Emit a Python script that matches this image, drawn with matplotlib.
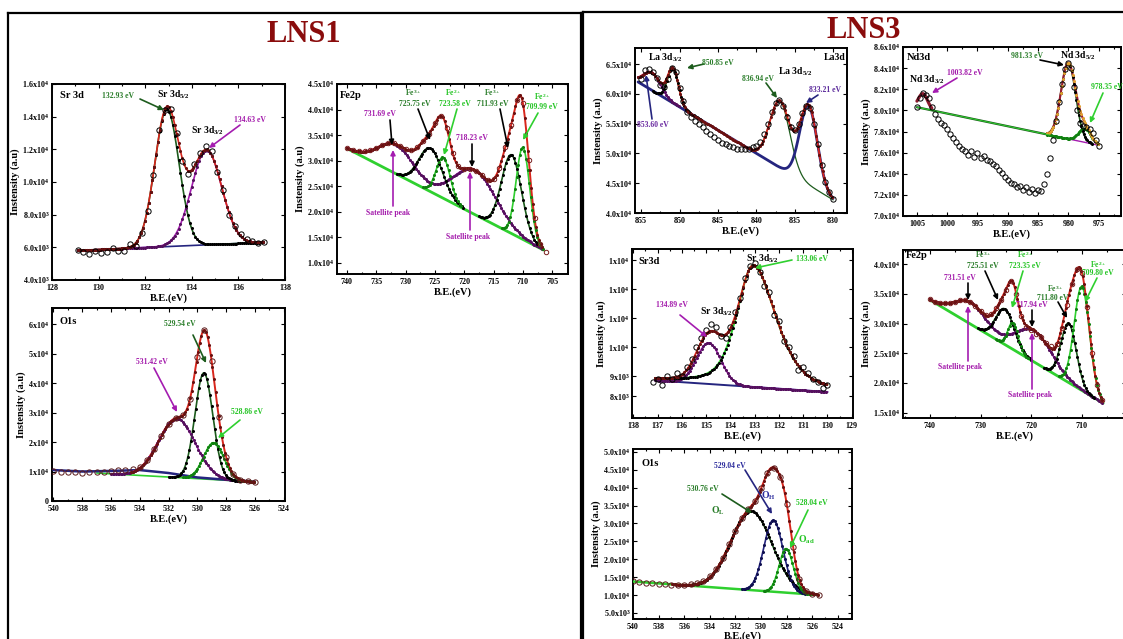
import numpy as np
import matplotlib
matplotlib.use("Agg")
import matplotlib.pyplot as plt
from matplotlib.ticker import AutoMinorLocator
from matplotlib.lines import Line2D
from matplotlib.patches import FancyArrowPatch

W, H = 1123, 639
plt.rcParams.update({
    "font.family": ["Liberation Serif", "DejaVu Serif"],
    "font.weight": "bold",
    "axes.labelweight": "bold",
    "mathtext.fontset": "custom",
    "mathtext.rm": "Liberation Serif:bold",
    "mathtext.it": "Liberation Serif:italic:bold",
    "mathtext.bf": "Liberation Serif:bold",
    "mathtext.default": "rm",
})

# ======================= DATA =======================
# --- LNS1 Sr 3d ---
sr1_grid = (129.1, 137.1, 0.25)
sr1_counts = [5.85, 5.70, 5.62, 5.78, 5.65, 5.70, 5.95, 5.80, 5.75, 6.20, 6.10, 6.90, 8.20,
              10.40, 13.20, 14.40, 14.50, 13.00, 11.30, 10.50, 11.10, 11.80, 12.20, 11.90,
              10.60, 9.50, 8.00, 7.30, 6.80, 6.50, 6.40, 6.25, 6.30]          # x1e3
sr1_baseline = [(129.0, 5.8e3), (137.0, 6.3e3)]
sr1_peak_be = [132.93, 134.63]
sr1_peak_h = [8.4e3, 5.8e3]
sr1_peak_s = [0.52, 0.65]
sr1_yticks = [4e3, 6e3, 8e3, 1.0e4, 1.2e4, 1.4e4, 1.6e4]
sr1_ylabels = ["4.0x10$^3$", "6.0x10$^3$", "8.0x10$^3$", "1.0x10$^4$", "1.2x10$^4$", "1.4x10$^4$", "1.6x10$^4$"]
sr1_xticks = [128, 130, 132, 134, 136, 138]

# --- LNS1 Fe2p ---
fe1_grid = (740, 706, -1.0)
fe1_counts = [3.25, 3.21, 3.18, 3.18, 3.20, 3.25, 3.30, 3.34, 3.34, 3.29, 3.22, 3.20, 3.27,
              3.39, 3.53, 3.73, 3.88, 3.64, 3.15, 2.89, 2.84, 2.84, 2.80, 2.71, 2.62, 2.64,
              2.86, 3.26, 3.70, 4.18, 4.13, 3.02, 1.87, 1.36, 1.22]           # x1e4
fe1_baseline = [(740.05, 3.24e4), (706.5, 1.25e4)]
fe1_peak_be = [731.69, 725.75, 723.58, 718.23, 711.93, 709.99]
fe1_peak_h = [0.57e4, 0.85e4, 0.80e4, 0.87e4, 1.54e4, 1.80e4]
fe1_peak_s = [3.0, 2.0, 1.2, 3.6, 1.7, 1.15]
fe1_yticks = [1.0e4, 1.5e4, 2.0e4, 2.5e4, 3.0e4, 3.5e4, 4.0e4, 4.5e4]
fe1_ylabels = ["1.0x10$^4$", "1.5x10$^4$", "2.0x10$^4$", "2.5x10$^4$", "3.0x10$^4$", "3.5x10$^4$", "4.0x10$^4$", "4.5x10$^4$"]
fe1_xticks = [740, 735, 730, 725, 720, 715, 710, 705]

# --- LNS1 O1s ---
o1_grid = (540, 526, -0.5)
o1_counts = [1.02, 1.00, 0.98, 0.97, 0.96, 0.98, 0.99, 1.00, 1.02, 1.04, 1.06, 1.10, 1.15,
             1.38, 1.76, 2.22, 2.62, 2.83, 2.93, 3.47, 4.89, 5.80, 4.74, 2.84, 1.51, 0.92,
             0.72, 0.67, 0.66]                                              # x1e4
o1_shirley_be = [540, 538, 536, 534, 532, 530, 528, 526]
o1_shirley = [1.05e4, 1.0e4, 1.02e4, 1.05e4, 0.95e4, 0.80e4, 0.72e4, 0.66e4]
o1_baseline = [(537.0, 0.95e4), (526.0, 0.65e4)]
o1_peak_be = [531.42, 529.54, 528.86]
o1_peak_h = [2.0e4, 3.6e4, 1.25e4]
o1_peak_s = [1.27, 0.62, 0.70]
o1_yticks = [0, 1e4, 2e4, 3e4, 4e4, 5e4, 6e4]
o1_ylabels = ["0", "1x10$^4$", "2x10$^4$", "3x10$^4$", "4x10$^4$", "5x10$^4$", "6x10$^4$"]
o1_xticks = [540, 538, 536, 534, 532, 530, 528, 526, 524]

# --- LNS3 La3d ---
la_grid = (855, 830, -0.5)
la_counts = [6.25, 6.40, 6.42, 6.36, 6.26, 6.15, 6.12, 6.25, 6.44, 6.36, 6.10, 5.88, 5.70,
             5.62, 5.55, 5.50, 5.45, 5.38, 5.33, 5.27, 5.22, 5.18, 5.15, 5.12, 5.10, 5.08,
             5.07, 5.07, 5.08, 5.10, 5.12, 5.20, 5.32, 5.50, 5.70, 5.85, 5.90, 5.80, 5.62,
             5.45, 5.40, 5.50, 5.68, 5.80, 5.76, 5.50, 5.15, 4.80, 4.52, 4.35, 4.23]  # x1e4
la_baseline = [(855.4, 6.2e4), (830.0, 4.22e4)]
la_peak_be = [853.60, 850.85, 836.94, 833.21]
la_peak_h = [0.30e4, 0.58e4, 1.12e4, 1.33e4]
la_peak_s = [1.1, 0.7, 1.3, 1.15]
la_yticks = [4.0e4, 4.5e4, 5.0e4, 5.5e4, 6.0e4, 6.5e4]
la_ylabels = ["4.0x10$^4$", "4.5x10$^4$", "5.0x10$^4$", "5.5x10$^4$", "6.0x10$^4$", "6.5x10$^4$"]
la_xticks = [855, 850, 845, 840, 835, 830]

# --- LNS3 Nd3d ---
nd_grid = (1005, 975, -0.5)
nd_counts = [8.03, 8.12, 8.16, 8.15, 8.12, 8.03, 7.97, 7.92, 7.88, 7.86,
             7.82, 7.78, 7.74, 7.70, 7.66, 7.63, 7.62, 7.58, 7.62, 7.56,
             7.60, 7.55, 7.57, 7.53, 7.52, 7.49, 7.47, 7.44, 7.41, 7.37,
             7.34, 7.31, 7.30, 7.27, 7.28, 7.25, 7.27, 7.23, 7.26, 7.22,
             7.25, 7.24, 7.30, 7.40, 7.55, 7.72, 7.90, 8.08, 8.25, 8.39,
             8.45, 8.40, 8.22, 8.00, 7.88, 7.85, 7.84, 7.82, 7.79, 7.72, 7.66]  # x1e4
nd_baseline = [(1005.0, 8.03e4), (975.0, 7.67e4)]
nd_peak_be = [1004.0, 980.0, 977.3]
nd_peak_h = [0.14e4, 0.72e4, 0.13e4]
nd_peak_s = [0.75, 1.2, 1.0]
nd_yticks = [7.0e4, 7.2e4, 7.4e4, 7.6e4, 7.8e4, 8.0e4, 8.2e4, 8.4e4, 8.6e4]
nd_ylabels = ["7.0x10$^4$", "7.2x10$^4$", "7.4x10$^4$", "7.6x10$^4$", "7.8x10$^4$", "8.0x10$^4$", "8.2x10$^4$", "8.4x10$^4$", "8.6x10$^4$"]
nd_xticks = [1005, 1000, 995, 990, 985, 980, 975]

# --- LNS3 Sr3d ---
sr3_grid = (137.2, 130.0, -0.2)
sr3_counts = [0.88, 0.89, 0.87, 0.90, 0.89, 0.91, 0.90, 0.93, 0.96, 1.00,
              1.03, 1.06, 1.08, 1.07, 1.04, 1.03, 1.07, 1.12, 1.17, 1.24,
              1.28, 1.29, 1.26, 1.21, 1.19, 1.11, 1.09, 1.02, 1.00, 0.97,
              0.92, 0.93, 0.91, 0.89, 0.88, 0.86, 0.87]                  # x1e4
sr3_baseline = [(137.1, 0.885e4), (130.0, 0.845e4)]
sr3_p_be, sr3_p_h, sr3_p_s = 134.89, 0.142e4, 0.5
sr3_g_be, sr3_g_h, sr3_g_fwhm_hi, sr3_g_fwhm_lo, sr3_g_eta = 133.06, 0.42e4, 1.6, 2.2, 0.5
sr3_yticks = [1.3e4, 1.2e4, 1.1e4, 1.0e4, 0.9e4, 0.83e4]
sr3_ylabels = ["1x10$^4$", "1x10$^4$", "1x10$^4$", "1x10$^4$", "9x10$^3$", "8x10$^3$"]
sr3_xticks = [138, 137, 136, 135, 134, 133, 132, 131, 130, 129]

# --- LNS3 Fe2p ---
fe3_grid = (740, 706, -1.0)
fe3_counts = [3.41, 3.37, 3.35, 3.34, 3.35, 3.37, 3.39, 3.39, 3.36, 3.30,
              3.21, 3.15, 3.16, 3.26, 3.40, 3.57, 3.71, 3.50, 3.12, 2.94,
              2.89, 2.83, 2.78, 2.68, 2.62, 2.66, 2.92, 3.32, 3.67, 3.92,
              3.86, 3.28, 2.50, 1.96, 1.72]                               # x1e4
fe3_baseline = [(740.0, 3.40e4), (705.8, 1.66e4)]
fe3_peak_be = [732.0, 725.2, 723.6, 719.5, 712.6, 710.0]
fe3_peak_h = [0.37e4, 0.60e4, 0.45e4, 0.53e4, 1.0e4, 1.75e4]
fe3_peak_s = [3.0, 1.8, 1.0, 3.5, 1.5, 1.5]
fe3_yticks = [1.5e4, 2.0e4, 2.5e4, 3.0e4, 3.5e4, 4.0e4]
fe3_ylabels = ["1.5x10$^4$", "2.0x10$^4$", "2.5x10$^4$", "3.0x10$^4$", "3.5x10$^4$", "4.0x10$^4$"]
fe3_xticks = [740, 730, 720, 710]

# --- LNS3 O1s ---
o3_grid = (540, 525.5, -0.5)
o3_counts = [1.38, 1.36, 1.34, 1.33, 1.31, 1.30, 1.28, 1.29, 1.29, 1.31,
             1.34, 1.40, 1.52, 1.72, 2.03, 2.42, 2.80, 3.15, 3.40, 3.62,
             3.98, 4.40, 4.55, 4.30, 3.55, 2.35, 1.45, 1.10, 1.03, 1.00]  # x1e4
o3_baseline = [(540.0, 1.377e4), (525.5, 1.0e4)]
o3_peak_be = [530.76, 529.04, 528.04]
o3_peak_h = [2.21e4, 2.0e4, 1.23e4]
o3_peak_s = [1.6, 0.75, 0.55]
o3_yticks = [0.5e4, 1.0e4, 1.5e4, 2.0e4, 2.5e4, 3.0e4, 3.5e4, 4.0e4, 4.5e4, 5.0e4]
o3_ylabels = ["5.0x10$^3$", "1.0x10$^4$", "1.5x10$^4$", "2.0x10$^4$", "2.5x10$^4$", "3.0x10$^4$", "3.5x10$^4$", "4.0x10$^4$", "4.5x10$^4$", "5.0x10$^4$"]
o3_xticks = [540, 538, 536, 534, 532, 530, 528, 526, 524]

# ======================= STYLE =======================
ENV, ENV_D = "#d8261c", "#6a1010"
DKG, DKG_D = "#1d5c1d", "#000000"
GRN, GRN_D = "#2fd02f", "#108010"
PUR, PUR_D = "#a41cb0", "#55105e"
NAV, NAV_D = "#25257f", "#101050"
T_DKG, T_GRN, T_PUR, T_NAV = "#2a7d2a", "#23c423", "#a31aab", "#2b2b9c"
TITLE = "#8a0c0c"

fig = plt.figure(figsize=(W / 100, H / 100), dpi=100)
fig.patch.set_facecolor("white")


def gauss(x, c, a, s):
    return a * np.exp(-0.5 * ((x - c) / s) ** 2)


def linbg(x, pts):
    (x0, y0), (x1, y1) = pts
    return y0 + (y1 - y0) * (np.asarray(x) - x0) / (x1 - x0)


def apv(x, c, a, w_hi, w_lo, eta):
    hw = np.where(x >= c, w_hi, w_lo) / 2.0
    u = ((x - c) / hw) ** 2
    return a * (eta / (1 + u) + (1 - eta) * np.exp(-np.log(2) * u))


def grid(g, n):
    return g[0] + g[2] * np.arange(n)


def make_ax(box, xlim, ylim, xt, yt, yl, xlabelpad=1):
    l, t, r, b = box
    ax = fig.add_axes([l / W, 1 - b / H, (r - l) / W, (b - t) / H])
    ax.set_xlim(*xlim)
    ax.set_ylim(*ylim)
    ax.set_xticks(xt)
    ax.set_xticklabels([str(v) for v in xt])
    ax.set_yticks(yt)
    ax.set_yticklabels(yl)
    ax.xaxis.set_minor_locator(AutoMinorLocator(2))
    ax.tick_params(which="both", direction="in", top=True, right=True,
                   labelsize=5.8, width=0.8)
    ax.tick_params(axis="x", pad=3)
    ax.tick_params(axis="y", pad=2)
    ax.tick_params(which="major", length=3)
    ax.tick_params(which="minor", length=1.7)
    for s in ax.spines.values():
        s.set_linewidth(1.4)
    ax.set_xlabel("B.E.(eV)", fontsize=7.5, labelpad=xlabelpad)
    ax.set_ylabel("Instensity (a.u)", fontsize=7.5, labelpad=2)
    return ax


def curve(ax, x, y, color, dot=None, lw=1.2, z=3, every=4):
    ax.plot(x, y, color=color, lw=lw, zorder=z, solid_capstyle="round")
    if dot is not None:
        ax.plot(x[::every], y[::every], ls="none", marker="o", ms=1.2,
                color=dot, zorder=z + 0.1)


def circles(ax, x, y, ec="black", ms=3.8):
    ax.plot(x, y, ls="none", marker="o", ms=ms, mfc="none", mec=ec, mew=0.7, zorder=5)


def label(s, p, color="black", size=5.5, ha="center"):
    fig.text(p[0] / W, 1 - p[1] / H, s, color=color, fontsize=size, ha=ha,
             va="center", fontweight="bold", zorder=10)


def arrow(p0, p1, color):
    a = FancyArrowPatch((p0[0] / W, 1 - p0[1] / H), (p1[0] / W, 1 - p1[1] / H),
                        transform=fig.transFigure, arrowstyle="-|>", mutation_scale=7,
                        color=color, lw=1.2, shrinkA=0, shrinkB=0, zorder=10)
    fig.add_artist(a)


def fline(p0, p1, lw=1.6):
    fig.add_artist(Line2D([p0[0] / W, p1[0] / W], [1 - p0[1] / H, 1 - p1[1] / H],
                          transform=fig.transFigure, color="black", lw=lw))


# ---------- boxes and titles ----------
fline((8, 13), (581, 13)); fline((8, 13), (8, 640)); fline((581, 13), (581, 640))
fline((583, 12), (1124, 12)); fline((583, 12), (583, 640))
label("LNS1", (304, 35), TITLE, 22)
label("LNS3", (864, 30), TITLE, 22)

# ================= LNS1 Sr 3d =================
axA = make_ax((52, 84, 285, 280), (128, 138), (4e3, 1.6e4), sr1_xticks, sr1_yticks, sr1_ylabels)
xm = np.linspace(sr1_baseline[0][0] + 0.1, sr1_baseline[1][0] + 0.1, 400)
bg = linbg(xm, sr1_baseline)
g = gauss(xm, sr1_peak_be[0], sr1_peak_h[0], sr1_peak_s[0])
p = gauss(xm, sr1_peak_be[1], sr1_peak_h[1], sr1_peak_s[1])
curve(axA, xm, bg, NAV)
curve(axA, xm, bg + p, PUR, PUR_D)
curve(axA, xm, bg + g, DKG, DKG_D)
curve(axA, xm, bg + g + p, ENV, ENV_D)
circles(axA, grid(sr1_grid, len(sr1_counts)), np.array(sr1_counts) * 1e3)
label("Sr 3d", (60, 95), size=7.5, ha="left")
label("132.93 eV", (118, 96), T_DKG)
arrow((140, 99), (164, 110), DKG)
label("Sr 3d$_{5/2}$", (173, 95), size=7)
label("Sr 3d$_{3/2}$", (207, 131), size=7)
label("134.63 eV", (250, 120), T_PUR)
arrow((240, 125), (209, 148), PUR)

# ================= LNS1 Fe2p =================
axB = make_ax((337, 84, 568, 274), (741.7, 702.3), (0.78e4, 4.5e4), fe1_xticks, fe1_yticks, fe1_ylabels)
xm = np.linspace(740.0, 706.5, 500)
bg = linbg(xm, fe1_baseline)
comps = [gauss(xm, c, a, s) for c, a, s in zip(fe1_peak_be, fe1_peak_h, fe1_peak_s)]
curve(axB, xm, bg, GRN, lw=2.0)
curve(axB, xm, bg + comps[0] + comps[3], PUR, PUR_D)
for k, col, dcol, lo, hi in [(1, DKG, DKG_D, 720.0, 731.5), (2, GRN, GRN_D, 720.5, 727.0),
                             (4, DKG, DKG_D, 707.5, 717.5), (5, GRN, GRN_D, 706.5, 713.5)]:
    m = (xm >= lo) & (xm <= hi)
    curve(axB, xm[m], bg[m] + comps[k][m], col, dcol)
curve(axB, xm, bg + sum(comps), ENV, ENV_D, lw=1.4)
circles(axB, grid(fe1_grid, len(fe1_counts)), np.array(fe1_counts) * 1e4, ec="#7a1f1f", ms=3.2)
label("Fe2p", (340, 96), size=7.5, ha="left")
label("Fe$^{3+}$", (413, 93), T_DKG); label("725.75 eV", (415, 104), T_DKG)
label("Fe$^{2+}$", (453, 93), T_GRN); label("723.58 eV", (455, 104), T_GRN)
label("Fe$^{3+}$", (492, 93), T_DKG); label("711.93 eV", (493, 104), T_DKG)
label("Fe$^{2+}$", (542, 96), T_GRN); label("709.99 eV", (542, 107), T_GRN)
label("731.69 eV", (380, 114), T_PUR)
label("718.23 eV", (472, 138), T_PUR)
label("Satellite peak", (388, 213), T_PUR)
label("Satellite peak", (468, 237), T_PUR)
arrow((418, 109), (430, 140), "black")
arrow((457, 109), (444, 155), GRN)
arrow((500, 109), (508, 148), "black")
arrow((538, 113), (523, 140), GRN)
arrow((390, 120), (392, 145), "black")
arrow((472, 144), (472, 167), "black")
arrow((393, 206), (393, 150), PUR)
arrow((470, 230), (470, 172), PUR)

# ================= LNS1 O1s =================
axC = make_ax((52, 308, 285, 501), (540.1, 523.9), (0, 6.55e4), o1_xticks, o1_yticks, o1_ylabels)
xm = np.linspace(537.0, 526.0, 400)
bg = linbg(xm, o1_baseline)
cp = [gauss(xm, c, a, s) for c, a, s in zip(o1_peak_be, o1_peak_h, o1_peak_s)]
curve(axC, xm, bg, GRN)
curve(axC, np.array(o1_shirley_be, float), np.array(o1_shirley), NAV, lw=1.8)
m = xm <= 536.0
curve(axC, xm[m], bg[m] + cp[0][m], PUR, PUR_D)
m = (xm <= 532.0) & (xm >= 527.0)
curve(axC, xm[m], bg[m] + cp[1][m], DKG, DKG_D)
m = xm <= 531.0
curve(axC, xm[m], bg[m] + cp[2][m], GRN, GRN_D)
m = xm <= 534.6
curve(axC, xm[m], bg[m] + sum(cp)[m], ENV, ENV_D, lw=1.4)
circles(axC, grid(o1_grid, len(o1_counts)), np.array(o1_counts) * 1e4, ec="#5a1a1a")
label("O1s", (60, 321), size=7.5, ha="left")
label("529.54 eV", (180, 324), T_DKG)
arrow((193, 335), (206, 363), DKG)
label("531.42 eV", (152, 362), T_PUR)
arrow((154, 368), (177, 412), PUR)
label("528.86 eV", (247, 412), T_GRN)
arrow((240, 420), (218, 438), GRN)

# ================= LNS3 La3d =================
axD = make_ax((635, 48, 847, 213), (855.8, 828.2), (4.0e4, 6.77e4), la_xticks, la_yticks, la_ylabels)
xm = np.linspace(855.4, 830.0, 500)
bg = linbg(xm, la_baseline)
cl = [gauss(xm, c, a, s) for c, a, s in zip(la_peak_be, la_peak_h, la_peak_s)]
m = xm >= 850.0
curve(axD, xm[m], bg[m] + cl[0][m], PUR, PUR_D)
m = (xm >= 847.0) & (xm <= 853.5)
curve(axD, xm[m], bg[m] + cl[1][m], DKG, DKG_D)
m = xm <= 841.0
curve(axD, xm[m], bg[m] + cl[2][m], DKG, lw=0.9)
curve(axD, xm, bg + cl[3], NAV, lw=2.0)
curve(axD, xm, bg + sum(cl), ENV, ENV_D, lw=1.3)
circles(axD, grid(la_grid, len(la_counts)), np.array(la_counts) * 1e4)
label("La 3d$_{3/2}$", (665, 58), size=7)
label("850.85 eV", (718, 63), T_DKG)
arrow((704, 64), (687, 68), DKG)
label("La3d", (835, 58), size=7)
label("La 3d$_{5/2}$", (795, 72), size=7)
label("836.94 eV", (758, 79), T_DKG)
arrow((766, 83), (777, 98), DKG)
label("833.21 eV", (825, 90), "#5b2a9b")
arrow((818, 95), (806, 103), NAV)
label("853.60 eV", (653, 125), "#6a2aa0")
arrow((652, 119), (646, 75), NAV)

# ================= LNS3 Nd3d =================
axE = make_ax((903, 47, 1121, 216), (1007.3, 971.3), (7.0e4, 8.6e4), nd_xticks, nd_yticks, nd_ylabels)
xm = np.linspace(1005.0, 975.0, 600)
bg = linbg(xm, nd_baseline)
cn = [gauss(xm, c, a, s) for c, a, s in zip(nd_peak_be, nd_peak_h, nd_peak_s)]
m = xm >= 983.0
curve(axE, xm[m], bg[m], DKG, lw=1.6)
curve(axE, xm[m], bg[m], GRN, lw=0.7, z=3.2)
m = xm <= 983.0
curve(axE, xm[m], bg[m], PUR, lw=1.0)
m = xm >= 1002.5
curve(axE, xm[m], bg[m] + cn[0][m], "#8b1a2e", lw=2.3)
m = xm <= 983.5
curve(axE, xm[m], bg[m] + cn[2][m], GRN, GRN_D)
m = (xm <= 983.5) & (xm >= 976.0)
curve(axE, xm[m], bg[m] + cn[1][m], DKG, DKG_D)
m = xm <= 983.5
curve(axE, xm[m], bg[m] + cn[1][m] + cn[2][m], "#9b1b30", "#e0a030", lw=1.5)
circles(axE, grid(nd_grid, len(nd_counts)), np.array(nd_counts) * 1e4)
label("Nd3d", (907, 58), size=7.5, ha="left")
label("Nd 3d$_{3/2}$", (927, 80), size=7)
label("1003.82 eV", (965, 73), T_PUR)
arrow((957, 78), (932, 93), PUR)
label("981.33 eV", (1027, 56), T_DKG)
arrow((1040, 60), (1064, 65), "black")
label("Nd 3d$_{5/2}$", (1078, 56), size=7)
label("978.35 eV", (1107, 87), T_GRN)
arrow((1103, 93), (1090, 123), GRN)

# ================= LNS3 Sr3d =================
axF = make_ax((632, 249, 853, 418), (138.05, 128.95), (0.755e4, 1.339e4), sr3_xticks, sr3_yticks, sr3_ylabels)
xm = np.linspace(137.1, 130.0, 400)
bg = linbg(xm, sr3_baseline)
pp = gauss(xm, sr3_p_be, sr3_p_h, sr3_p_s)
gg = apv(xm, sr3_g_be, sr3_g_h, sr3_g_fwhm_hi, sr3_g_fwhm_lo, sr3_g_eta)
curve(axF, xm, bg, NAV, lw=1.4)
curve(axF, xm, bg + pp, PUR, PUR_D)
curve(axF, xm, bg + gg, GRN, DKG_D, lw=1.4)
curve(axF, xm, bg + pp + gg, ENV, ENV_D, lw=1.3)
circles(axF, grid(sr3_grid, len(sr3_counts)), np.array(sr3_counts) * 1e4)
label("Sr3d", (638, 262), size=7.5, ha="left")
label("Sr 3d$_{5/2}$", (762, 259), size=7)
label("133.06 eV", (812, 259), T_GRN)
arrow((792, 260), (755, 268), GRN)
label("134.89 eV", (672, 305), T_PUR)
label("Sr 3d$_{3/2}$", (716, 312), size=7)
arrow((680, 315), (707, 337), PUR)

# ================= LNS3 Fe2p =================
axG = make_ax((903, 250, 1126, 418), (745.3, 701.3), (1.41e4, 4.24e4), fe3_xticks, fe3_yticks, fe3_ylabels)
xm = np.linspace(740.0, 705.8, 500)
bg = linbg(xm, fe3_baseline)
cf = [gauss(xm, c, a, s) for c, a, s in zip(fe3_peak_be, fe3_peak_h, fe3_peak_s)]
curve(axG, xm, bg, GRN, lw=2.0)
curve(axG, xm, bg + cf[0] + cf[3], PUR, PUR_D)
for k, col, dcol, lo, hi in [(1, DKG, DKG_D, 720.0, 730.5), (2, GRN, GRN_D, 720.5, 727.0),
                             (4, DKG, DKG_D, 707.5, 717.5), (5, GRN, GRN_D, 706.0, 714.5)]:
    m = (xm >= lo) & (xm <= hi)
    curve(axG, xm[m], bg[m] + cf[k][m], col, dcol)
curve(axG, xm, bg + sum(cf), ENV, ENV_D, lw=1.4)
circles(axG, grid(fe3_grid, len(fe3_counts)), np.array(fe3_counts) * 1e4, ec="#7a1f1f", ms=3.2)
label("Fe2p", (906, 255), size=7.5, ha="left")
label("Fe$^{3+}$", (983, 255), T_DKG); label("725.51 eV", (983, 266), T_DKG)
label("Fe$^{2+}$", (1025, 255), T_GRN); label("723.35 eV", (1025, 266), T_GRN)
label("Fe$^{3+}$", (1055, 289), T_DKG); label("711.80 eV", (1053, 298), T_DKG)
label("Fe$^{2+}$", (1098, 264), T_GRN); label("709.80 eV", (1098, 273), T_GRN)
label("731.51 eV", (960, 278), T_PUR)
label("717.94 eV", (1032, 305), T_PUR)
label("Satellite peak", (960, 367), T_PUR)
label("Satellite peak", (1030, 395), T_PUR)
arrow((968, 283), (968, 300), "black")
arrow((985, 271), (998, 300), "black")
arrow((1023, 271), (1012, 308), GRN)
arrow((1058, 302), (1067, 318), "black")
arrow((1097, 278), (1085, 302), GRN)
arrow((1032, 310), (1032, 327), "black")
arrow((968, 361), (968, 306), PUR)
arrow((1032, 389), (1032, 333), PUR)

# ================= LNS3 O1s =================
axH = make_ax((633, 449, 852, 619), (540.0, 522.9), (0.33e4, 5.08e4), o3_xticks, o3_yticks, o3_ylabels,
              xlabelpad=0)
xm = np.linspace(540.0, 525.5, 500)
bg = linbg(xm, o3_baseline)
co = [gauss(xm, c, a, s) for c, a, s in zip(o3_peak_be, o3_peak_h, o3_peak_s)]
curve(axH, xm, bg, GRN, lw=1.8)
m = (xm <= 536.0) & (xm >= 526.5)
curve(axH, xm[m], bg[m] + co[0][m], DKG, DKG_D)
m = (xm <= 531.5) & (xm >= 526.5)
curve(axH, xm[m], bg[m] + co[1][m], NAV, NAV_D)
m = (xm <= 529.8) & (xm >= 526.0)
curve(axH, xm[m], bg[m] + co[2][m], GRN, GRN_D)
m = xm <= 537.0
curve(axH, xm[m], bg[m] + sum(co)[m], ENV, ENV_D, lw=1.4)
circles(axH, grid(o3_grid, len(o3_counts)), np.array(o3_counts) * 1e4, ec="#5a1a1a")
label("O1s", (641, 463), size=7.5, ha="left")
label("529.04 eV", (730, 466), T_NAV)
arrow((745, 470), (772, 514), NAV)
label("530.76 eV", (703, 489), T_DKG)
arrow((722, 494), (752, 513), DKG)
label("O$_L$", (718, 511), T_DKG, size=7)
label("O$_H$", (768, 496), T_NAV, size=7)
label("528.04 eV", (812, 503), T_GRN)
arrow((808, 510), (790, 548), GRN)
label("O$_{ad}$", (806, 540), T_GRN, size=7)

fig.savefig("out.png", dpi=100, facecolor="white")
